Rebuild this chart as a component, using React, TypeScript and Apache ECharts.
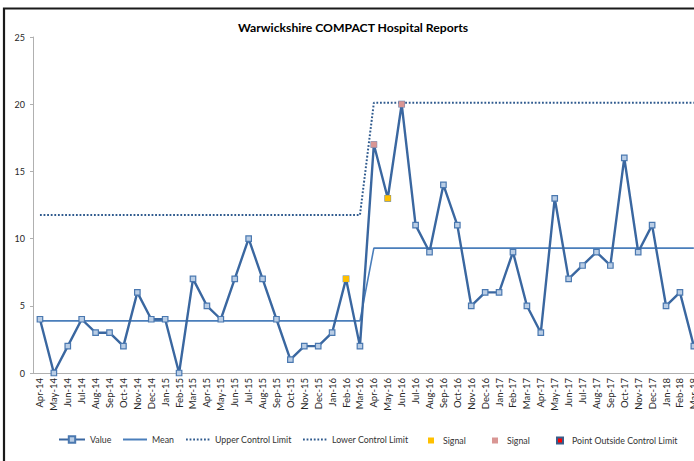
import React, { useEffect, useRef } from "react";
import * as echarts from "echarts";

const categories = [
  "Apr-14", "May-14", "Jun-14", "Jul-14", "Aug-14", "Sep-14", "Oct-14", "Nov-14", "Dec-14", "Jan-15", "Feb-15", "Mar-15",
  "Apr-15", "May-15", "Jun-15", "Jul-15", "Aug-15", "Sep-15", "Oct-15", "Nov-15", "Dec-15", "Jan-16", "Feb-16", "Mar-16",
  "Apr-16", "May-16", "Jun-16", "Jul-16", "Aug-16", "Sep-16", "Oct-16", "Nov-16", "Dec-16", "Jan-17", "Feb-17", "Mar-17",
  "Apr-17", "May-17", "Jun-17", "Jul-17", "Aug-17", "Sep-17", "Oct-17", "Nov-17", "Dec-17", "Jan-18", "Feb-18", "Mar-18",
];

const values = [
  4, 0, 2, 4, 3, 3, 2, 6, 4, 4, 0, 7,
  5, 4, 7, 10, 7, 4, 1, 2, 2, 3, 7, 2,
  17, 13, 20, 11, 9, 14, 11, 5, 6, 6, 9, 5,
  3, 13, 7, 8, 9, 8, 16, 9, 11, 5, 6, 2,
];

const meanValues = [
  3.875, 3.875, 3.875, 3.875, 3.875, 3.875, 3.875, 3.875, 3.875, 3.875, 3.875, 3.875,
  3.875, 3.875, 3.875, 3.875, 3.875, 3.875, 3.875, 3.875, 3.875, 3.875, 3.875, 3.875,
  9.29, 9.29, 9.29, 9.29, 9.29, 9.29, 9.29, 9.29, 9.29, 9.29, 9.29, 9.29,
  9.29, 9.29, 9.29, 9.29, 9.29, 9.29, 9.29, 9.29, 9.29, 9.29, 9.29, 9.29,
];

const uclValues = [
  11.75, 11.75, 11.75, 11.75, 11.75, 11.75, 11.75, 11.75, 11.75, 11.75, 11.75, 11.75,
  11.75, 11.75, 11.75, 11.75, 11.75, 11.75, 11.75, 11.75, 11.75, 11.75, 11.75, 11.75,
  20.1, 20.1, 20.1, 20.1, 20.1, 20.1, 20.1, 20.1, 20.1, 20.1, 20.1, 20.1,
  20.1, 20.1, 20.1, 20.1, 20.1, 20.1, 20.1, 20.1, 20.1, 20.1, 20.1, 20.1,
];

// Lower control limit lies below zero and is not drawn in the chart
const lclValues: number[] = [];

const signalYellow: [string, number][] = [["Feb-16", 7], ["May-16", 13]];
const signalPink: [string, number][] = [["Apr-16", 17], ["Jun-16", 20]];
const outsidePoints: [string, number][] = [];

const yTicks = { min: 0, max: 25, interval: 5 };

const FONT = "Lato, 'Open Sans', sans-serif";
const SQ = "path://M0,0L10,0L10,10L0,10Z";

const legendText = { fontFamily: FONT, fontSize: 8.8, color: "#333" };

function lineLegend(name: string, left: number, width: number, hideSymbol: boolean) {
  return {
    left,
    top: 435,
    padding: 0,
    itemWidth: width,
    itemHeight: 8,
    textStyle: legendText,
    data: [hideSymbol ? { name, itemStyle: { opacity: 0 } } : { name }],
  };
}

function squareLegend(name: string, left: number) {
  return {
    left,
    top: 436,
    padding: 0,
    itemWidth: 14,
    itemHeight: 6,
    textStyle: legendText,
    data: [{ name, icon: SQ }],
  };
}

export default function App() {
  const ref = useRef<HTMLDivElement>(null);
  useEffect(() => {
    if (!ref.current) return;
    const chart = echarts.init(ref.current, null, { renderer: "svg" });
    chart.setOption({
      animation: false,
      backgroundColor: "#ffffff",
      title: {
        text: "Warwickshire COMPACT Hospital Reports",
        left: 233,
        top: 16,
        textStyle: { fontFamily: FONT, fontSize: 12.2, fontWeight: "bold", color: "#000" },
      },
      graphic: [
        {
          type: "rect",
          shape: { x: 4, y: 8.5, width: 760, height: 520 },
          style: { fill: "none", stroke: "#1a1a1a", lineWidth: 2.2 },
          silent: true,
          z: 100,
        },
      ],
      legend: [
        lineLegend("Value", 58, 26, false),
        lineLegend("Mean", 122, 24, true),
        lineLegend("Upper Control Limit", 185, 24, true),
        lineLegend("Lower Control Limit", 302, 24, true),
        squareLegend("Signal", 428),
        squareLegend("Signal ", 492),
        squareLegend("Point Outside Control Limit", 556),
      ],
      grid: { left: 33, top: 37, right: 11.2, bottom: 88, containLabel: false },
      xAxis: {
        type: "category",
        data: categories,
        boundaryGap: true,
        axisLine: { show: true, lineStyle: { color: "#b0b0b0", width: 1 } },
        axisTick: { show: false },
        axisLabel: {
          rotate: 90,
          interval: 0,
          fontFamily: FONT,
          fontSize: 9.5,
          color: "#262626",
          margin: 5,
        },
        splitLine: { show: false },
      },
      yAxis: {
        type: "value",
        min: yTicks.min,
        max: yTicks.max,
        interval: yTicks.interval,
        axisLine: { show: true, lineStyle: { color: "#b0b0b0", width: 1 } },
        axisTick: { show: true, length: 3, lineStyle: { color: "#b0b0b0" } },
        axisLabel: { fontFamily: FONT, fontSize: 9, color: "#262626", margin: 8 },
        splitLine: { show: false },
      },
      series: [
        {
          name: "Mean",
          type: "line",
          data: meanValues,
          symbol: "none",
          lineStyle: { color: "#4A7EBB", width: 1.6 },
          itemStyle: { color: "#4A7EBB" },
          z: 2,
        },
        {
          name: "Upper Control Limit",
          type: "line",
          data: uclValues,
          symbol: "none",
          lineStyle: { color: "#2F5A8E", width: 2, type: [1.8, 1.8] },
          itemStyle: { color: "#2F5A8E" },
          z: 2,
        },
        {
          name: "Lower Control Limit",
          type: "line",
          data: lclValues,
          symbol: "none",
          lineStyle: { color: "#2F5A8E", width: 2, type: [1.8, 1.8] },
          itemStyle: { color: "#2F5A8E" },
          z: 2,
        },
        {
          name: "Value",
          type: "line",
          data: values,
          symbol: "rect",
          symbolSize: 5.5,
          showAllSymbol: true,
          lineStyle: { color: "#3A67A0", width: 2.4 },
          itemStyle: { color: "#B9CDE5", borderColor: "#4A78B0", borderWidth: 1.2 },
          z: 3,
        },
        {
          name: "Signal",
          type: "scatter",
          data: signalYellow,
          symbol: "rect",
          symbolSize: 6,
          itemStyle: { color: "#FFC000", opacity: 1 },
          z: 4,
        },
        {
          name: "Signal ",
          type: "scatter",
          data: signalPink,
          symbol: "rect",
          symbolSize: 6,
          itemStyle: { color: "#D99694", opacity: 1 },
          z: 4,
        },
        {
          name: "Point Outside Control Limit",
          type: "scatter",
          data: outsidePoints,
          symbol: "rect",
          symbolSize: 6,
          itemStyle: { color: "#FF0000", borderColor: "#385D8A", borderWidth: 1, opacity: 1 },
          z: 4,
        },
      ],
    });
    return () => chart.dispose();
  }, []);
  return (
    <div style={{ position: "fixed", left: 0, top: 0, width: 694, height: 461, overflow: "hidden" }}>
      <div ref={ref} style={{ position: "absolute", left: 0, top: 0, width: 712, height: 461 }} />
    </div>
  );
}
